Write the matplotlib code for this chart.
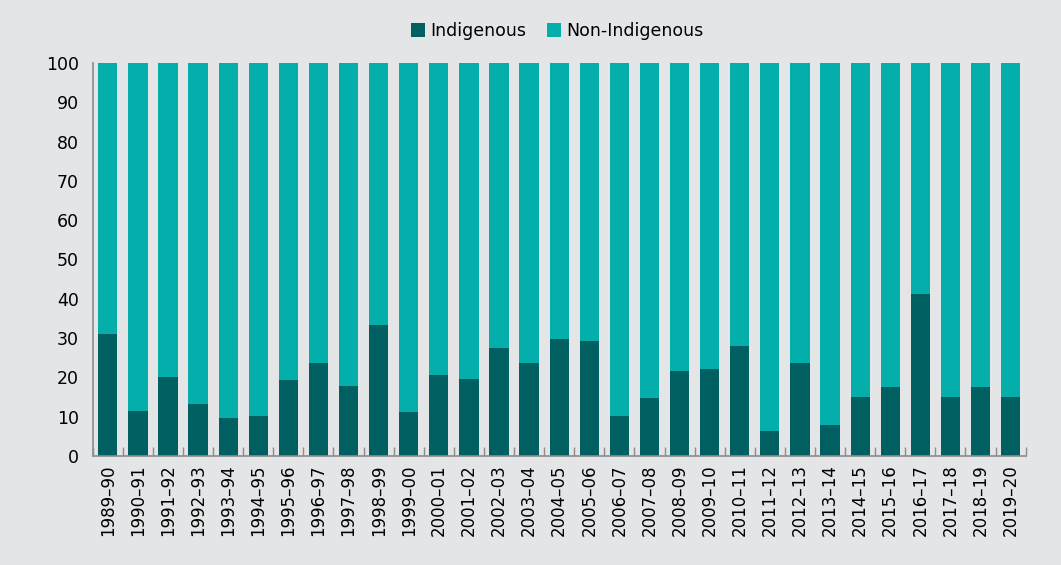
import matplotlib
matplotlib.use("Agg")
import matplotlib.pyplot as plt
import numpy as np

years = ["1989–90","1990–91","1991–92","1992–93","1993–94","1994–95","1995–96","1996–97",
         "1997–98","1998–99","1999–00","2000–01","2001–02","2002–03","2003–04","2004–05",
         "2005–06","2006–07","2007–08","2008–09","2009–10","2010–11","2011–12","2012–13",
         "2013–14","2014–15","2015–16","2016–17","2017–18","2018–19","2019–20"]
indigenous = [31.1, 11.5, 20.1, 13.2, 9.7, 10.1, 19.4, 23.6, 17.9, 33.3, 11.1, 20.6, 19.5,
              27.5, 23.7, 29.7, 29.2, 10.1, 14.8, 21.6, 22.2, 28.0, 6.4, 23.6, 7.8, 15.0,
              17.6, 41.1, 15.0, 17.5, 15.0]
non_indigenous = [100 - v for v in indigenous]

bg = "#e4e5e7"
dark = "#005f61"
light = "#04aeaa"

fig = plt.figure(figsize=(10.61, 5.65), dpi=100, facecolor=bg)
ax = fig.add_axes([0.0874, 0.193, 0.8793, 0.6955])
ax.set_facecolor(bg)

x = np.arange(len(years))
b1 = ax.bar(x, indigenous, width=0.64, color=dark, label="Indigenous")
b2 = ax.bar(x, non_indigenous, width=0.64, bottom=indigenous, color=light, label="Non-Indigenous")

ax.set_xlim(-0.5, len(years) - 0.5)
ax.set_ylim(0, 100)
ax.set_yticks(np.arange(0, 101, 10))
ax.tick_params(axis="y", length=0, labelsize=12.5, pad=10, colors="black")
ax.set_xticks(x)
ax.set_xticklabels(years, rotation=90, fontsize=12)
ax.tick_params(axis="x", which="major", length=0, pad=6)
ax.set_xticks(np.arange(-0.5, len(years), 1), minor=True)
ax.tick_params(axis="x", which="minor", direction="in", length=6.5, color="#8c8c8c", width=1)

for s in ["top", "right"]:
    ax.spines[s].set_visible(False)
for s in ["left", "bottom"]:
    ax.spines[s].set_color("#8c8c8c")
    ax.spines[s].set_linewidth(1.2)

fig.legend(handles=[b1, b2], loc="center", bbox_to_anchor=(0.525, 0.945), ncol=2,
           frameon=False, fontsize=12.5, handlelength=0.8, handleheight=0.8,
           handletextpad=0.3, columnspacing=1.2)

fig.savefig("out.png", dpi=100, facecolor=bg)
